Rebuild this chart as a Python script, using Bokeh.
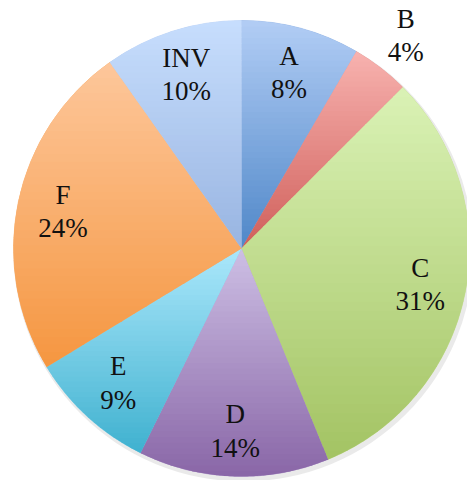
import numpy as np
from bokeh.plotting import figure
from bokeh.models import Range1d, ColumnDataSource
from bokeh.core.properties import value
from bokeh.embed import file_html
from bokeh.resources import INLINE

categories = ["A", "B", "C", "D", "E", "F", "INV"]
shares = [8.4, 4.1, 31.3, 13.5, 9.0, 23.9, 9.8]
pct_labels = ["8%", "4%", "31%", "14%", "9%", "24%", "10%"]
colors = ["#88ade3", "#e68e8a", "#c3dd8e", "#ac95c9", "#7acde7", "#f8ae6b", "#b2caf0"]
top_colors = ["#b2cdf5", "#f8b2af", "#daf2b5", "#cdbfe4", "#abe7fb", "#fdc79b", "#c7defd"]
bottom_colors = ["#4f87c8", "#cf5f5a", "#a3c363", "#8966a7", "#3fb1cf", "#f59640", "#98b4e1"]

W, H = 467, 480
cx, cy, R = 241, 232, 228

vals = np.array(shares, dtype=float)
frac = vals / vals.sum()
cum = np.concatenate([[0], np.cumsum(frac)])
start = np.pi / 2 - 2 * np.pi * cum[:-1]
end = np.pi / 2 - 2 * np.pi * cum[1:]
mid = (start + end) / 2
lab_r = np.where(frac < 0.05, 1.18 * R, 0.80 * R)

src = ColumnDataSource(dict(
    cat=categories, start=start, end=end, color=colors,
    lx=cx + lab_r * np.cos(mid), ly=cy + lab_r * np.sin(mid),
    txt=[f"{c}\n{p}" for c, p in zip(categories, pct_labels)],
))


def hex2rgb(h):
    return np.array([int(h[i:i + 2], 16) for i in (1, 3, 5)], dtype=float)


def clip(poly, yv, keep_above):
    out = []
    n = len(poly)
    for i in range(n):
        a, b = poly[i], poly[(i + 1) % n]
        ina = (a[1] >= yv) if keep_above else (a[1] <= yv)
        inb = (b[1] >= yv) if keep_above else (b[1] <= yv)
        if ina:
            out.append(a)
        if ina != inb:
            t = (yv - a[1]) / (b[1] - a[1])
            out.append((a[0] + t * (b[0] - a[0]), yv))
    return out


# gradient bands per slice (derived from the slice angles)
bx, by, bc = [], [], []
nb = 40
for i in range(len(categories)):
    th = np.linspace(start[i], end[i], 120)
    poly = [(cx, cy)] + [(cx + R * np.cos(t), cy + R * np.sin(t)) for t in th]
    ys = [q[1] for q in poly]
    y_lo, y_hi = min(ys), max(ys)
    c_top, c_bot = hex2rgb(top_colors[i]), hex2rgb(bottom_colors[i])
    edges = np.linspace(y_lo, y_hi, nb + 1)
    for k in range(nb):
        seg = clip(clip(poly, edges[k] - 0.4, True), edges[k + 1] + 0.4, False)
        if len(seg) < 3:
            continue
        f = (edges[k] + edges[k + 1]) / 2
        f = (f - y_lo) / (y_hi - y_lo)
        rgb = c_bot + (c_top - c_bot) * f
        bx.append([q[0] for q in seg])
        by.append([q[1] for q in seg])
        bc.append("#%02x%02x%02x" % tuple(int(round(v)) for v in rgb))

p = figure(width=W, height=H, x_range=Range1d(0, W), y_range=Range1d(0, H),
           output_backend="svg", toolbar_location=None, min_border=0)
p.axis.visible = False
p.grid.visible = False
p.outline_line_color = None
p.background_fill_color = "white"

# soft shadow
p.circle(x=cx + 2, y=cy - 3, radius=R + 2, fill_color="#dcdcdc", line_color=None, fill_alpha=0.6)
p.wedge(x=cx, y=cy, radius=R, start_angle="start", end_angle="end", direction="clock",
        fill_color="color", line_color="color", line_width=0.5, source=src)
p.patches(xs=bx, ys=by, fill_color=bc, line_color=None)
p.text(x="lx", y="ly", text="txt", source=src, text_align="center", text_baseline="middle",
       text_font=value("Liberation Serif"), text_font_size="27px", text_color="#111111",
       text_line_height=1.12)

open("out.html", "w").write(file_html(p, INLINE))
